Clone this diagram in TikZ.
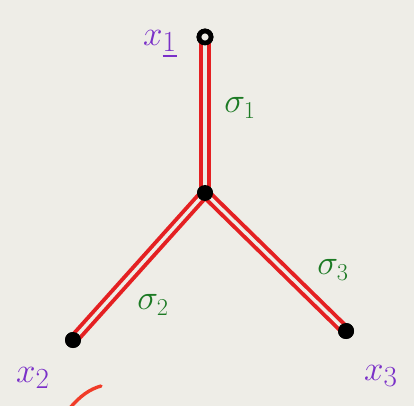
\documentclass[tikz,border=0pt]{standalone}
\usepackage{amsmath}
\usetikzlibrary{positioning}
\definecolor{paperBg}{RGB}{238,237,231}
\definecolor{treeRed}{RGB}{228,32,34}
\definecolor{sigGreen}{RGB}{28,122,36}
\definecolor{leafPurple}{RGB}{122,48,200}
\definecolor{scribbleRed}{RGB}{240,60,40}

\begin{document}
\begin{tikzpicture}[x=0.025cm,y=-0.025cm,
    dot/.style={circle,fill=black,minimum size=16*0.025cm,inner sep=0pt},
    tipdot/.style={circle,draw=black,line width=3.4pt,fill=paperBg,minimum size=12*0.025cm,inner sep=0pt},
    edge/.style={draw=treeRed,line width=2.8pt,double=paperBg,double distance=2.4pt,shorten <=-2pt,shorten >=-2pt},
    sig/.style={text=sigGreen,font=\fontsize{26}{28}\selectfont},
    leaf/.style={text=leafPurple,font=\fontsize{28}{30}\selectfont}]

    % paper
    \fill[paperBg] (0,0) rectangle (414,406);
    \useasboundingbox (0,0) rectangle (414,406);

    % tree nodes
    \node[dot] (c) at (205,193) {};
    \node[tipdot] (x1) at (205,37) {};
    \node[dot] (x2) at (73,340) {};
    \node[dot] (x3) at (346,331) {};

    % branches
    \draw[edge] (x1) -- (c);
    \draw[edge] (c) -- (x2);
    \draw[edge] (c) -- (x3);
    \node[dot] at (c) {};
    \node[dot] at (x2) {};
    \node[dot] at (x3) {};
    \node[tipdot] at (x1) {};

    % branch labels
    \node[sig] (s1) at (240,108) {$\sigma_{1}$};
    \node[sig] (s2) at (153,305) {$\sigma_{2}$};
    \node[sig] (s3) at (333,270) {$\sigma_{3}$};

    % leaf labels
    \node[leaf] (l1) at (160,44) {$x_{\underline{1}}$};
    \node[leaf] (l2) at (33,378) {$x_{2}$};
    \node[leaf] (l3) at (381,376) {$x_{3}$};

    % cut-off stroke at the bottom
    \draw[scribbleRed,line width=2.4pt,line cap=round]
      (70,408) .. controls (80,396) and (90,389) .. (101,386);
  \end{tikzpicture}
\end{document}
